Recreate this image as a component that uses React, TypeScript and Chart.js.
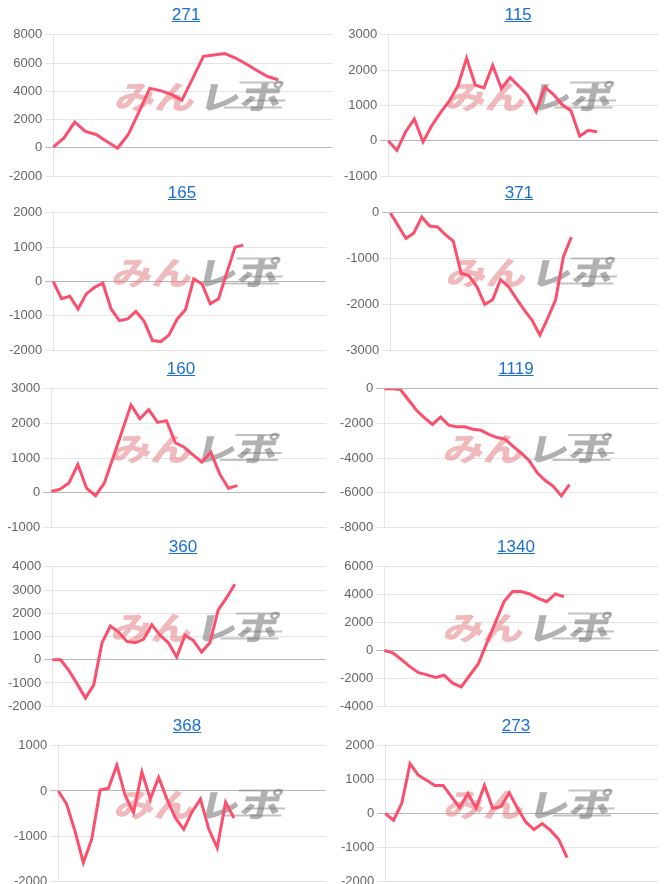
import React, { useEffect, useRef } from 'react';
import { Chart, registerables } from 'chart.js';

Chart.register(...registerables);

// ---- data ----
const values271 = [50, 710, 1830, 1170, 950, 450, -20, 950, 2550, 4210, 4050, 3790, 3380, 4900, 6480, 6570, 6670, 6360, 5930, 5480, 5050, 4810];
const values115 = [0, -270, 260, 620, -30, 430, 800, 1120, 1550, 2340, 1580, 1500, 2140, 1480, 1790, 1550, 1290, 830, 1520, 1310, 1020, 850, 130, 300, 260];
const values165 = [0, -500, -430, -800, -360, -170, -50, -800, -1140, -1090, -870, -1160, -1720, -1750, -1560, -1090, -820, 80, -70, -650, -500, 250, 1000, 1060];
const values371 = [0, -280, -560, -440, -90, -290, -310, -475, -620, -1320, -1375, -1610, -2000, -1900, -1460, -1610, -1870, -2120, -2340, -2670, -2300, -1900, -950, -530];
const values160 = [30, 100, 280, 810, 120, -90, 280, 1030, 1780, 2535, 2130, 2400, 2030, 2080, 1440, 1310, 1090, 880, 1170, 540, 125, 200];
const values1119 = [0, 0, -40, -630, -1240, -1680, -2060, -1640, -2100, -2200, -2200, -2340, -2400, -2630, -2820, -2910, -3330, -3710, -4150, -4860, -5300, -5640, -6190, -5540];
const values360 = [0, 0, -460, -1040, -1650, -1080, 730, 1450, 1190, 790, 730, 880, 1510, 1050, 730, 120, 1050, 830, 330, 730, 2130, 2660, 3250];
const values1340 = [0, -170, -650, -1160, -1590, -1750, -1940, -1780, -2350, -2610, -1780, -950, 545, 2015, 3500, 4220, 4220, 4050, 3740, 3500, 4050, 3860];
const values368 = [0, -290, -890, -1590, -1070, 20, 60, 570, -100, -480, 420, -180, 300, -180, -600, -850, -460, -180, -850, -1260, -250, -600];
const values273 = [0, -200, 300, 1470, 1130, 980, 830, 830, 500, 175, 590, 155, 830, 155, 200, 610, 155, -250, -475, -300, -500, -770, -1300];

// number of category slots on each x axis (labels are hidden)
const slots271 = 27;
const slots115 = 32;
const slots165 = 34;
const slots371 = 35;
const slots160 = 32;
const slots1119 = 35;
const slots360 = 34;
const slots1340 = 33;
const slots368 = 33;
const slots273 = 34;

// y-axis tick labels
const ticks271 = [-2000, 0, 2000, 4000, 6000, 8000];
const ticks115 = [-1000, 0, 1000, 2000, 3000];
const ticks165 = [-2000, -1000, 0, 1000, 2000];
const ticks371 = [-3000, -2000, -1000, 0];
const ticks160 = [-1000, 0, 1000, 2000, 3000];
const ticks1119 = [-8000, -6000, -4000, -2000, 0];
const ticks360 = [-2000, -1000, 0, 1000, 2000, 3000, 4000];
const ticks1340 = [-4000, -2000, 0, 2000, 4000, 6000];
const ticks368 = [-2000, -1000, 0, 1000];
const ticks273 = [-2000, -1000, 0, 1000, 2000];

const titles = ['271', '115', '165', '371', '160', '1119', '360', '1340', '368', '273'];

const makeLabels = (n: number) => Array.from({ length: n }, (_, i) => String(i + 1));

const charts = [
  { title: titles[0], values: values271, labels: makeLabels(slots271), ticks: ticks271 },
  { title: titles[1], values: values115, labels: makeLabels(slots115), ticks: ticks115 },
  { title: titles[2], values: values165, labels: makeLabels(slots165), ticks: ticks165 },
  { title: titles[3], values: values371, labels: makeLabels(slots371), ticks: ticks371 },
  { title: titles[4], values: values160, labels: makeLabels(slots160), ticks: ticks160 },
  { title: titles[5], values: values1119, labels: makeLabels(slots1119), ticks: ticks1119 },
  { title: titles[6], values: values360, labels: makeLabels(slots360), ticks: ticks360 },
  { title: titles[7], values: values1340, labels: makeLabels(slots1340), ticks: ticks1340 },
  { title: titles[8], values: values368, labels: makeLabels(slots368), ticks: ticks368 },
  { title: titles[9], values: values273, labels: makeLabels(slots273), ticks: ticks273 },
];

// layout (page pixels)
const rowTops = [24, 202, 378, 556, 735];
const rowHeights = [163, 159, 160, 161, 157];
const axisXs = [53, 388, 53, 390, 51, 384, 52, 384, 58, 385];
const rightEdges = [332, 658, 326, 658, 326, 658, 326, 658, 326, 658];
const titleCenters = [186, 518, 182, 519, 181, 516, 183, 516, 187, 516];
const AXIS_W = 47;

const watermark = {
  id: 'watermark',
  beforeDatasetsDraw(chart: any) {
    const { ctx, chartArea: a } = chart;
    const cx = (a.left + a.right) / 2 + 6;
    const cy = (a.top + a.bottom) / 2 - 10;
    ctx.save();
    ctx.translate(cx, cy);
    ctx.transform(1, 0, -0.22, 1, 0, 0);
    ctx.font = '900 34px "Noto Sans CJK JP"';
    ctx.textBaseline = 'middle';
    ctx.textAlign = 'left';
    const w1 = ctx.measureText('みん').width;
    ctx.save();
    ctx.translate(-82, 1);
    ctx.scale(80 / w1, 0.95);
    ctx.fillStyle = 'rgba(225, 115, 122, 0.5)';
    ctx.fillText('みん', 0, 0);
    ctx.restore();
    const w2 = ctx.measureText('レポ').width;
    ctx.save();
    ctx.translate(2, 1);
    ctx.scale(82 / w2, 0.95);
    ctx.fillStyle = 'rgba(120, 120, 120, 0.58)';
    ctx.fillText('レポ', 0, 0);
    ctx.restore();
    ctx.fillStyle = 'rgba(120, 120, 120, 0.45)';
    ctx.fillRect(38, -14, 44, 2);
    ctx.fillRect(48, 4, 40, 2);
    ctx.fillRect(28, 11, 58, 2);
    ctx.restore();
  },
};

function MiniChart({ cfg, width, height }: { cfg: any; width: number; height: number }) {
  const ref = useRef<HTMLCanvasElement | null>(null);
  useEffect(() => {
    if (!ref.current) return;
    const t: number[] = cfg.ticks;
    const chart = new Chart(ref.current, {
      type: 'line',
      data: {
        labels: cfg.labels,
        datasets: [
          {
            data: cfg.values,
            borderColor: 'rgb(250, 80, 110)',
            backgroundColor: 'rgb(250, 80, 110)',
            borderWidth: 3,
            pointRadius: 0,
            tension: 0,
            fill: false,
          },
        ],
      },
      options: {
        responsive: false,
        animation: false,
        plugins: { legend: { display: false }, tooltip: { enabled: false } },
        scales: {
          x: { display: false },
          y: {
            min: t[0],
            max: t[t.length - 1],
            ticks: {
              stepSize: t[1] - t[0],
              color: '#666',
              font: { size: 13, family: 'Arial, "Liberation Sans", sans-serif' },
              callback: (v: any) => String(v),
            },
            grid: {
              color: (c: any) => (c.tick && c.tick.value === 0 ? 'rgba(0,0,0,0.28)' : 'rgba(0,0,0,0.1)'),
            },
            border: { color: 'rgba(0,0,0,0.1)' },
          },
        },
      },
      plugins: [watermark],
    });
    return () => chart.destroy();
  }, [cfg]);
  return <canvas ref={ref} width={width} height={height} style={{ display: 'block' }} />;
}

export default function App() {
  return (
    <div style={{ position: 'relative', width: 650, height: 876, fontFamily: 'Arial, "Liberation Sans", sans-serif' }}>
      {charts.map((c, i) => {
        const row = Math.floor(i / 2);
        const canvasTop = rowTops[row] - 8;
        const leftPage = axisXs[i] - AXIS_W;
        const left = leftPage - 8;
        const width = rightEdges[i] - leftPage;
        const height = rowHeights[row];
        const titleCx = titleCenters[i] - 8;
        return (
          <React.Fragment key={i}>
            <div
              style={{
                position: 'absolute',
                left: titleCx - 50,
                width: 100,
                top: canvasTop - 19,
                height: 20,
                lineHeight: '20px',
                textAlign: 'center',
                fontSize: 17,
              }}
            >
              <a href="#" style={{ color: '#1a6fd4' }}>{c.title}</a>
            </div>
            <div style={{ position: 'absolute', left, top: canvasTop, width, height }}>
              <MiniChart cfg={c} width={width} height={height} />
            </div>
          </React.Fragment>
        );
      })}
    </div>
  );
}
